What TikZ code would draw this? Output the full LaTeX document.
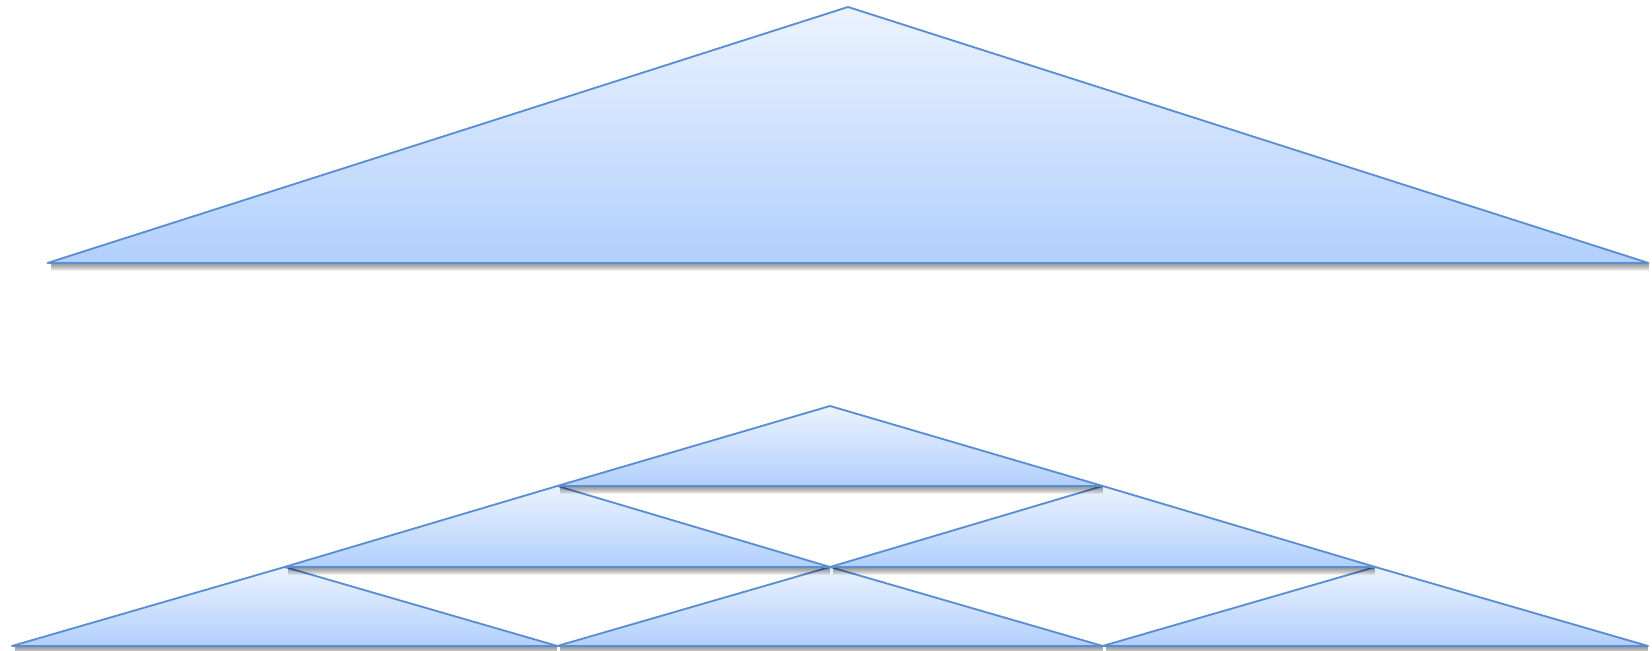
\documentclass[tikz,border=0pt]{standalone}
\definecolor{Edge}{HTML}{5A8ED2}
\definecolor{FillTop}{HTML}{EAF2FE}
\definecolor{FillBottom}{HTML}{B2D0FD}
\tikzset{tri/.style={draw=Edge,line width=1.05pt,line join=round},shadowband/.style={fill=black,opacity=.065}}

\begin{document}
\begin{tikzpicture}[x=.02cm,y=.02cm]
  \useasboundingbox (0,0) rectangle (1652,651);
  % apex x / apex y / half width / height
  \foreach \ax/\ay/\hw/\ht in {848/644/800.5/256,830/245/272.7/80,557.3/165/272.7/81,1102.7/165/272.7/81,284.7/84/272.7/79,830/84/272.7/79,1375.3/84/272.7/79}{
    \begin{scope}
      \clip (\ax,\ay) -- (\ax-\hw,\ay-\ht) -- (\ax+\hw,\ay-\ht) -- cycle;
      \foreach \k in {0,...,39}{
        \pgfmathtruncatemacro\pct{100-\k*100/39}
        \fill[FillBottom!\pct!FillTop] (\ax-\hw,\ay-\ht+\k*\ht/40) rectangle (\ax+\hw,\ay-\ht+\k*\ht/40+\ht/40+.6);
      }
    \end{scope}
    \path[tri] (\ax,\ay) -- (\ax-\hw,\ay-\ht) -- (\ax+\hw,\ay-\ht) -- cycle;
  }
  % shadows under the bases
  \foreach \ax/\ay/\hw/\ht in {848/644/800.5/256,830/245/272.7/80,557.3/165/272.7/81,1102.7/165/272.7/81,284.7/84/272.7/79,830/84/272.7/79,1375.3/84/272.7/79}
    \foreach \s in {1,...,7}
      \fill[shadowband] (\ax-\hw+3,\ay-\ht-1.2) rectangle (\ax+\hw,\ay-\ht-1.2-\s);
\end{tikzpicture}
\end{document}
